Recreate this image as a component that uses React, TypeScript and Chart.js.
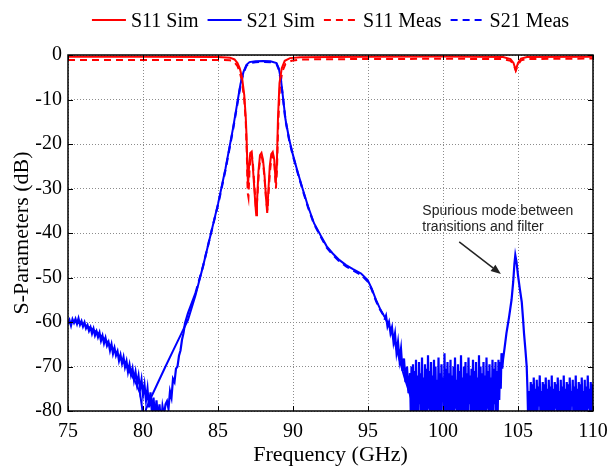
import React, { useEffect, useRef } from "react";
import { Chart, registerables } from "chart.js";

Chart.register(...registerables);

// ---------- data (frequency GHz, dB) ----------
const s11Sim: [number, number][] = [
  [75, -0.4], [80, -0.4], [85, -0.45], [85.8, -0.6], [86.1, -1.0], [86.3, -1.8], [86.45, -3], [86.6, -5],
  [86.75, -9], [86.85, -14], [86.9, -18], [86.95, -24], [87.0, -29.6], [87.07, -25], [87.15, -22], [87.22, -21.8],
  [87.3, -24], [87.4, -29], [87.5, -34], [87.55, -36], [87.6, -33], [87.7, -26], [87.8, -22.5], [87.9, -22],
  [88.0, -23.5], [88.1, -27], [88.2, -32], [88.28, -35.5], [88.35, -31], [88.45, -25], [88.55, -22.3], [88.65, -21.8],
  [88.75, -23.5], [88.85, -28.8], [88.92, -25], [89.0, -14], [89.1, -6.3], [89.25, -3], [89.45, -1.3], [89.8, -0.7],
  [90.5, -0.5], [95, -0.4], [100, -0.35], [104, -0.45], [104.5, -0.9], [104.7, -1.8], [104.85, -3.4], [105.0, -1.8],
  [105.2, -0.8], [105.6, -0.45], [110, -0.4],
];

const s11Meas: [number, number][] = [
  [75, -1.1], [80, -1.1], [85, -1.1], [85.8, -1.2], [86.1, -1.6], [86.3, -2.5], [86.45, -3.8], [86.6, -6],
  [86.75, -10], [86.85, -15], [86.92, -22], [86.98, -31], [87.03, -32], [87.1, -26], [87.18, -22.5], [87.25, -22],
  [87.33, -24.5], [87.43, -29.5], [87.52, -34], [87.58, -34.5], [87.64, -31], [87.74, -25.5], [87.84, -23], [87.93, -23],
  [88.03, -25], [88.13, -29], [88.22, -33], [88.3, -35], [88.37, -31], [88.47, -26], [88.57, -23], [88.67, -22.5],
  [88.77, -25], [88.86, -30], [88.93, -26], [89.02, -15], [89.12, -7.5], [89.28, -3.8], [89.5, -2], [89.9, -1.3],
  [90.5, -1.0], [95, -0.9], [100, -0.85], [104, -0.9], [104.5, -1.3], [104.7, -2.1], [104.85, -3.5], [105.0, -2.2],
  [105.2, -1.2], [105.6, -0.9], [110, -0.8],
];

const s21Sim: [number, number][] = [
  [75, -60], [75.5, -60], [76, -60.5], [76.5, -61.3], [77, -62.5], [77.5, -64], [78, -66], [78.5, -68],
  [79, -70.5], [79.5, -73.5], [79.8, -76], [79.95, -79.5], [80.03, -84], [80.08, -88], [80.14, -82], [80.2, -79.6],
  [80.5, -77.2], [81, -73.6], [81.5, -70], [82, -66.5], [82.5, -63], [83, -59.5], [83.5, -54], [84, -47.5],
  [84.5, -40.5], [85, -33.5], [85.5, -25.5], [86, -16.5], [86.3, -10.5], [86.5, -6.5], [86.7, -3.8], [86.9, -2.2],
  [87.1, -1.6], [87.5, -1.4], [88, -1.35], [88.5, -1.4], [88.9, -1.8], [89.05, -3], [89.2, -5.6], [89.35, -10],
  [89.5, -14.5], [89.75, -19], [90, -22.5], [90.33, -26.5], [90.66, -30.3], [91, -34], [91.4, -37.8], [91.88, -40.8],
  [92.25, -43], [92.65, -44.6], [93.1, -46.1], [93.54, -47.2], [94, -48.1], [94.54, -49.1], [94.98, -50.6], [95.25, -52.5],
  [95.54, -55.1], [95.8, -57], [96.1, -58.8], [96.54, -61.8], [96.98, -67], [97.42, -72.3], [97.97, -78.2], [98.3, -82],
  [98.8, -86], [100, -88], [105, -88], [110, -88],
];

// measured S21, split into frequency segments
const s21MeasLow: [number, number][] = [
  [75.0, -60.5], [75.1, -59.6], [75.2, -60.8], [75.3, -59.4], [75.4, -60.2], [75.5, -59.3], [75.6, -60.4], [75.7, -59.2],
  [75.8, -60.6], [75.9, -59.8], [76.0, -61.0], [76.1, -60.1], [76.2, -61.4], [76.3, -60.7], [76.4, -62.0], [76.5, -61.2],
  [76.6, -62.6], [76.7, -61.5], [76.8, -63.0], [76.9, -62.1], [77.0, -63.4], [77.1, -62.4], [77.2, -64.2], [77.3, -63.1],
  [77.4, -64.8], [77.5, -63.6], [77.6, -65.3], [77.7, -64.5], [77.8, -66.4], [77.9, -65.0], [78.0, -67.1], [78.1, -65.8],
  [78.2, -67.5], [78.3, -66.6], [78.4, -68.7], [78.5, -67.4], [78.6, -69.3], [78.7, -67.9], [78.8, -70.1], [78.9, -68.8],
  [79.0, -71.2], [79.1, -69.6], [79.2, -71.8], [79.3, -70.4], [79.4, -73.0], [79.5, -71.2], [79.6, -73.9], [79.7, -72.1],
  [79.8, -75.2], [79.9, -73.0], [80.0, -76.4], [80.1, -74.1], [80.2, -77.6], [80.3, -75.0], [80.4, -79.2], [80.5, -75.8],
  [80.6, -80.5], [80.7, -77.0], [80.8, -81.5], [80.9, -77.6], [81.0, -82.0], [81.1, -78.5], [81.2, -83.0], [81.3, -79.0],
  [81.4, -81.0], [81.5, -78.5],
];

const s21MeasBand: [number, number][] = [
  [81.6, -77.8], [81.7, -79.5], [81.8, -75.6], [81.9, -77.0], [82.0, -72.8], [82.1, -73.5], [82.2, -70.5], [82.3, -70.0],
  [82.4, -67.6], [82.5, -66.4], [82.6, -64.0], [82.7, -62.5], [82.8, -60.3], [83.0, -58.0], [83.5, -53.5], [84, -47.5],
  [84.5, -40.5], [85, -33.7], [85.5, -25.8], [86, -16.8], [86.3, -10.8], [86.5, -6.8], [86.7, -4.0], [86.9, -2.4],
  [87.1, -1.8], [87.5, -1.6], [88, -1.55], [88.5, -1.6], [88.9, -2.0], [89.05, -3.2], [89.2, -5.8], [89.35, -10.2],
  [89.5, -14.7], [89.75, -19.2], [90, -22.7], [90.33, -26.7], [90.66, -30.5], [91, -34.2], [91.4, -38], [91.88, -41],
  [92.25, -43.3], [92.65, -44.9], [93.1, -46.4], [93.54, -47.5], [94, -48.4], [94.54, -49.4], [94.98, -50.9], [95.25, -52.7],
  [95.54, -55.3], [95.8, -57.2], [96.0, -58.3], [96.1, -59.5], [96.2, -58.6], [96.3, -61.0], [96.4, -60.0], [96.5, -62.5],
  [96.6, -61.2], [96.7, -64.5], [96.8, -62.6], [96.9, -66.8], [97.0, -64.5], [97.1, -68.5], [97.2, -66.0], [97.3, -71.0],
  [97.4, -68.2], [97.5, -73.5], [97.6, -70.0], [97.7, -76.0], [97.8, -71.5], [97.85, -80.5],
];

const s21MeasFloor: [number, number][] = [
  [97.9, -70.0], [97.95, -81.0], [98.0, -69.5], [98.05, -84.0], [98.1, -71.0], [98.15, -80.5], [98.2, -68.5], [98.25, -83.5],
  [98.3, -72.0], [98.35, -86.0], [98.4, -69.0], [98.45, -78.5], [98.5, -71.5], [98.55, -84.0], [98.6, -68.0], [98.65, -81.5],
  [98.7, -72.5], [98.75, -85.0], [98.8, -69.5], [98.85, -80.5], [98.9, -70.5], [98.95, -83.0], [99.0, -67.5], [99.05, -79.5],
  [99.1, -71.0], [99.15, -86.0], [99.2, -69.0], [99.25, -82.0], [99.3, -72.0], [99.35, -80.5], [99.4, -68.5], [99.45, -84.5],
  [99.5, -70.0], [99.55, -81.0], [99.6, -73.0], [99.65, -83.5], [99.7, -68.0], [99.75, -80.0], [99.8, -71.5], [99.85, -86.0],
  [99.9, -69.5], [99.95, -78.0], [100.0, -72.5], [100.05, -84.0], [100.1, -67.0], [100.15, -81.0], [100.2, -70.5], [100.25, -85.5],
  [100.3, -69.0], [100.35, -80.5], [100.4, -71.5], [100.45, -83.0], [100.5, -68.5], [100.55, -81.5], [100.6, -72.0], [100.65, -86.0],
  [100.7, -70.0], [100.75, -82.5], [100.8, -68.0], [100.85, -79.5], [100.9, -73.0], [100.95, -84.5], [101.0, -69.5], [101.05, -81.0],
  [101.1, -71.0], [101.15, -83.0], [101.2, -67.5], [101.25, -80.5], [101.3, -72.5], [101.35, -86.0], [101.4, -70.0], [101.45, -81.5],
  [101.5, -69.0], [101.55, -84.0], [101.6, -71.5], [101.65, -82.0], [101.7, -68.0], [101.75, -78.5], [101.8, -72.0], [101.85, -85.0],
  [101.9, -70.5], [101.95, -81.0], [102.0, -68.5], [102.05, -83.5], [102.1, -71.0], [102.15, -80.5], [102.2, -69.0], [102.25, -86.0],
  [102.3, -72.5], [102.35, -81.5], [102.4, -67.5], [102.45, -84.0], [102.5, -70.0], [102.55, -80.0], [102.6, -71.5], [102.65, -85.0],
  [102.7, -69.0], [102.75, -82.0], [102.8, -72.0], [102.85, -83.5], [102.9, -68.0], [102.95, -79.5], [103.0, -71.0], [103.05, -86.0],
  [103.1, -69.5], [103.15, -82.5], [103.2, -72.5], [103.25, -80.5], [103.3, -68.5], [103.35, -84.0], [103.4, -70.5], [103.45, -78.5],
  [103.5, -69.0], [103.55, -83.0], [103.6, -71.0], [103.65, -80.0], [103.7, -68.5], [103.75, -77.5], [103.8, -69.0], [103.85, -75.0],
  [103.9, -67.0],
];

const s21MeasSpur: [number, number][] = [
  [103.95, -70.5], [104.0, -68.5], [104.1, -66], [104.23, -62.5], [104.4, -59], [104.57, -55], [104.68, -51], [104.76, -47],
  [104.82, -45], [104.9, -46.5], [105.0, -49.5], [105.12, -52.5], [105.25, -55.5], [105.33, -59], [105.4, -62.5], [105.5, -66.5],
  [105.58, -70], [105.63, -75], [105.67, -81], [105.72, -78], [105.76, -75.5],
];

const s21MeasHigh: [number, number][] = [
  [105.8, -81.0], [105.85, -73.5], [105.9, -84.0], [105.95, -74.0], [106.0, -82.5], [106.05, -72.5], [106.1, -80.5], [106.15, -75.0],
  [106.2, -85.0], [106.25, -73.0], [106.3, -81.5], [106.35, -74.5], [106.4, -79.0], [106.45, -72.0], [106.5, -83.0], [106.55, -75.5],
  [106.6, -80.5], [106.65, -73.5], [106.7, -86.0], [106.75, -74.0], [106.8, -81.0], [106.85, -72.5], [106.9, -82.5], [106.95, -75.0],
  [107.0, -84.0], [107.05, -73.0], [107.1, -80.0], [107.15, -74.5], [107.2, -83.0], [107.25, -72.0], [107.3, -85.5], [107.35, -75.0],
  [107.4, -81.5], [107.45, -73.5], [107.5, -79.5], [107.55, -74.0], [107.6, -83.5], [107.65, -72.5], [107.7, -80.5], [107.75, -75.5],
  [107.8, -86.0], [107.85, -73.0], [107.9, -81.0], [107.95, -74.5], [108.0, -82.5], [108.05, -72.0], [108.1, -84.5], [108.15, -75.0],
  [108.2, -80.0], [108.25, -73.5], [108.3, -83.0], [108.35, -74.0], [108.4, -85.0], [108.45, -72.5], [108.5, -81.5], [108.55, -75.5],
  [108.6, -79.0], [108.65, -73.0], [108.7, -83.0], [108.75, -74.5], [108.8, -80.5], [108.85, -72.0], [108.9, -86.0], [108.95, -75.0],
  [109.0, -81.0], [109.05, -73.5], [109.1, -82.5], [109.15, -74.0], [109.2, -84.0], [109.25, -72.5], [109.3, -80.5], [109.35, -75.5],
  [109.4, -83.0], [109.45, -73.0], [109.5, -85.5], [109.55, -74.5], [109.6, -81.0], [109.65, -72.0], [109.7, -79.5], [109.75, -75.0],
  [109.8, -83.0], [109.85, -73.5], [109.9, -80.5], [109.95, -74.0], [110.0, -78.5],
];

const xTickValues = [75, 80, 85, 90, 95, 100, 105, 110];
const yTickValues = [0, -10, -20, -30, -40, -50, -60, -70, -80];
const seriesLabels = ["S11 Sim", "S21 Sim", "S11 Meas", "S21 Meas"];
const xTitle = "Frequency (GHz)";
const yTitle = "S-Parameters (dB)";
const noteLines = ["Spurious mode between", "transitions and filter"];
const noteAnchor = { x: 98.62, y: [-35.2, -38.7] };
const arrowTail = { x: 101.08, y: -42.0 };
const arrowHead = { x: 103.86, y: -49.2 };
// frequency range where the measured trace is smooth (dash visible); outside it the dense noisy trace reads as a solid band
const measSmoothFrom = 83.2;
const measSmoothTo = 96.0;

// ---------- styles ----------
const SERIF = '"Liberation Serif", "Times New Roman", Times, serif';
const SANS = '"Liberation Sans", Arial, Helvetica, sans-serif';
const RED = "#ff0000";
const BLUE = "#0000ff";
const DASH = [7, 5];

const toXY = (pts: [number, number][]) => pts.map(([x, y]) => ({ x, y }));

const decorPlugin = {
  id: "decor",
  afterDraw(chart: any) {
    const { ctx, chartArea: a, scales } = chart;
    const xs = scales.x;
    const ys = scales.y;
    ctx.save();

    // frame + inward ticks
    ctx.strokeStyle = "#000";
    ctx.lineWidth = 1;
    ctx.setLineDash([]);
    ctx.beginPath();
    xTickValues.forEach((v) => {
      const px = Math.round(xs.getPixelForValue(v)) + 0.5;
      ctx.moveTo(px, a.bottom);
      ctx.lineTo(px, a.bottom - 5);
      ctx.moveTo(px, a.top);
      ctx.lineTo(px, a.top + 5);
    });
    yTickValues.forEach((v) => {
      const py = Math.round(ys.getPixelForValue(v)) + 0.5;
      ctx.moveTo(a.left, py);
      ctx.lineTo(a.left + 5, py);
      ctx.moveTo(a.right, py);
      ctx.lineTo(a.right - 5, py);
    });
    ctx.stroke();
    ctx.lineWidth = 1.5;
    ctx.strokeRect(a.left, a.top, a.right - a.left, a.bottom - a.top);

    // legend
    ctx.font = `20px ${SERIF}`;
    ctx.textBaseline = "alphabetic";
    ctx.textAlign = "left";
    const sample = 34;
    const gap = 5;
    const itemGap = 9;
    const ds = chart.data.datasets;
    const widths = ds.map((d: any) => sample + gap + ctx.measureText(d.label).width);
    const total = widths.reduce((s: number, w: number) => s + w, 0) + itemGap * (ds.length - 1);
    let x = (a.left + a.right) / 2 - total / 2;
    const lineY = 20;
    ds.forEach((d: any, i: number) => {
      ctx.strokeStyle = d.borderColor;
      ctx.lineWidth = 2;
      ctx.setLineDash(d.borderDash || []);
      ctx.beginPath();
      ctx.moveTo(x, lineY);
      ctx.lineTo(x + sample, lineY);
      ctx.stroke();
      ctx.setLineDash([]);
      ctx.fillStyle = "#000";
      ctx.fillText(d.label, x + sample + gap, 27);
      x += widths[i] + itemGap;
    });

    // annotation
    ctx.font = `14px ${SANS}`;
    ctx.fillStyle = "#222";
    ctx.textBaseline = "middle";
    noteLines.forEach((t, i) => {
      ctx.fillText(t, xs.getPixelForValue(noteAnchor.x), ys.getPixelForValue(noteAnchor.y[i]));
    });
    const tx = xs.getPixelForValue(arrowTail.x);
    const ty = ys.getPixelForValue(arrowTail.y);
    const hx = xs.getPixelForValue(arrowHead.x);
    const hy = ys.getPixelForValue(arrowHead.y);
    const ang = Math.atan2(hy - ty, hx - tx);
    const L = 10;
    const W = 4;
    const bx = hx - L * Math.cos(ang);
    const by = hy - L * Math.sin(ang);
    ctx.strokeStyle = "#222";
    ctx.fillStyle = "#222";
    ctx.lineWidth = 1.5;
    ctx.beginPath();
    ctx.moveTo(tx, ty);
    ctx.lineTo(bx, by);
    ctx.stroke();
    ctx.beginPath();
    ctx.moveTo(hx, hy);
    ctx.lineTo(bx + W * Math.sin(ang), by - W * Math.cos(ang));
    ctx.lineTo(bx - W * Math.sin(ang), by + W * Math.cos(ang));
    ctx.closePath();
    ctx.fill();

    ctx.restore();
  },
};

export default function App() {
  const ref = useRef<HTMLCanvasElement>(null);

  useEffect(() => {
    if (!ref.current) return;
    const lineBase = { pointRadius: 0, borderWidth: 2, fill: false, tension: 0, clip: 0 };
    const chart = new Chart(ref.current, {
      type: "line",
      data: {
        datasets: [
          { ...lineBase, label: seriesLabels[0], data: toXY(s11Sim), borderColor: RED },
          { ...lineBase, label: seriesLabels[1], data: toXY(s21Sim), borderColor: BLUE },
          { ...lineBase, label: seriesLabels[2], data: toXY(s11Meas), borderColor: RED, borderDash: DASH },
          {
            ...lineBase,
            label: seriesLabels[3],
            data: toXY([...s21MeasLow, ...s21MeasBand, ...s21MeasFloor, ...s21MeasSpur, ...s21MeasHigh]),
            borderColor: BLUE,
            borderWidth: 2.2,
            borderDash: DASH,
            segment: {
              borderDash: (c: any) =>
                c.p0.parsed.x < measSmoothFrom || c.p0.parsed.x > measSmoothTo ? [] : undefined,
            },
          },
        ] as any,
      },
      options: {
        animation: false,
        responsive: false,
        events: [],
        layout: { padding: { top: 55, right: 15, left: 0, bottom: 0 } },
        plugins: { legend: { display: false }, tooltip: { enabled: false } },
        scales: {
          x: {
            type: "linear",
            min: 75,
            max: 110,
            afterBuildTicks: (s: any) => {
              s.ticks = xTickValues.map((v) => ({ value: v }));
            },
            afterFit: (s: any) => {
              s.height = 57;
              s.paddingLeft = 0;
              s.paddingRight = 0;
            },
            ticks: { font: { family: SERIF, size: 20 }, color: "#000", padding: 9, maxRotation: 0, minRotation: 0, autoSkip: false },
            grid: { color: "#8c8c8c", lineWidth: 1, drawTicks: false },
            border: { display: false, dash: [1, 2] },
            title: {
              display: true,
              text: xTitle,
              color: "#000",
              font: { family: SERIF, size: 22, lineHeight: 1 },
              padding: { top: 0, bottom: 1.5 },
            },
          },
          y: {
            type: "linear",
            min: -80,
            max: 0,
            afterBuildTicks: (s: any) => {
              s.ticks = yTickValues.map((v) => ({ value: v }));
            },
            afterFit: (s: any) => {
              s.width = 68;
              s.paddingTop = 0;
              s.paddingBottom = 0;
            },
            ticks: { font: { family: SERIF, size: 20 }, color: "#000", padding: 6, autoSkip: false },
            grid: { color: "#8c8c8c", lineWidth: 1, drawTicks: false },
            border: { display: false, dash: [1, 2] },
            title: { display: true, text: yTitle, color: "#000", font: { family: SERIF, size: 22 }, padding: { top: 9, bottom: 0 } },
          },
        },
      } as any,
      plugins: [decorPlugin],
    });
    return () => chart.destroy();
  }, []);

  return (
    <div style={{ position: "fixed", left: 0, top: 0, width: 608, height: 468, background: "#fff" }}>
      <canvas ref={ref} width={608} height={468} style={{ display: "block" }} />
    </div>
  );
}
